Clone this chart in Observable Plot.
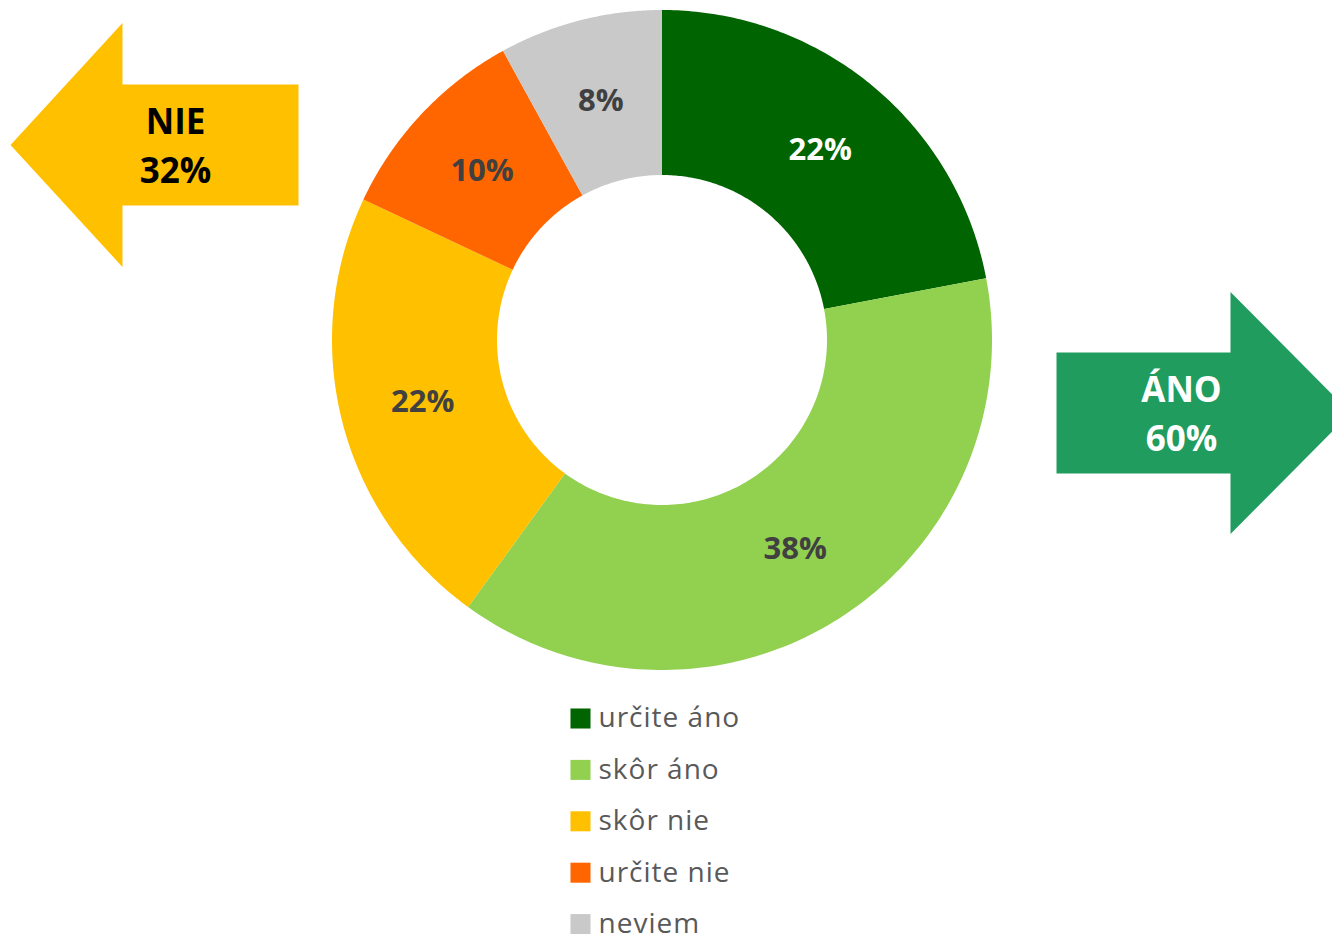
<!DOCTYPE html>
<html>
<head>
<meta charset="utf-8">
<script src="https://cdn.jsdelivr.net/npm/d3@7"></script>
<script src="https://cdn.jsdelivr.net/npm/@observablehq/plot@0.6"></script>
<style>
  html, body { margin: 0; padding: 0; background: #fff; overflow: hidden; }
  #chart svg { display: block; }
  .legend-text text { letter-spacing: 1px; }
</style>
</head>
<body>
<div id="chart"></div>
<script>
// ---------- data ----------
const categories = ["určite áno", "skôr áno", "skôr nie", "určite nie", "neviem"];
const values = [22, 38, 22, 10, 8];
const colors = ["#006400", "#92D050", "#FFC000", "#FF6600", "#C9C9C9"];
const labelColors = ["#FFFFFF", "#404040", "#404040", "#404040", "#404040"];
const groupNames = ["NIE", "ÁNO"];
const groupMembers = [["skôr nie", "určite nie"], ["určite áno", "skôr áno"]];
const groupColors = ["#FFC000", "#1F9C5E"];
const groupTextColors = ["#000000", "#FFFFFF"];

// ---------- layout (pixels -> unit radius coordinates) ----------
const W = 1332, H = 934, CX = 662, CY = 340, R = 330, INNER = 0.5;
const ux = px => (px - CX) / R;
const uy = py => (CY - py) / R;

// ---------- donut slices ----------
const total = d3.sum(values);
let acc = 0;
const slices = categories.map((c, i) => {
  const a0 = acc / total * 2 * Math.PI;
  acc += values[i];
  const a1 = acc / total * 2 * Math.PI;
  return {key: c, value: values[i], a0, a1, color: labelColors[i]};
});
const arcPts = [];
for (const s of slices) {
  const n = 120;
  for (let k = 0; k <= n; k++) {
    const a = s.a0 + (s.a1 - s.a0) * k / n;
    arcPts.push({key: s.key, x1: INNER * Math.sin(a), y1: INNER * Math.cos(a), x2: Math.sin(a), y2: Math.cos(a)});
  }
}
const labels = slices.map(s => {
  const a = (s.a0 + s.a1) / 2, r = (1 + INNER) / 2;
  return {key: s.key, x: r * Math.sin(a), y: r * Math.cos(a), text: `${s.value}%`, color: s.color};
});

// ---------- group arrows ----------
const groupSums = groupMembers.map(m => d3.sum(m, k => values[categories.indexOf(k)]));
// arrow shapes in pixels: tip x, head base x, tail x, centre y, head half-height, body half-height, text x
const arrowShapes = [
  {tip: 10, head: 122, tail: 298, cy: 144.5, hh: 122, bh: 60.5, tx: 175},
  {tip: 1350, head: 1230, tail: 1056, cy: 412.5, hh: 121, bh: 60.5, tx: 1181}
];
const arrowPts = [];
arrowShapes.forEach((a, i) => {
  const poly = [
    [a.tip, a.cy], [a.head, a.cy - a.hh], [a.head, a.cy - a.bh], [a.tail, a.cy - a.bh],
    [a.tail, a.cy + a.bh], [a.head, a.cy + a.bh], [a.head, a.cy + a.hh], [a.tip, a.cy]
  ];
  poly.forEach(([px, py]) => arrowPts.push({g: groupNames[i], x: ux(px), y: uy(py)}));
});
const arrowText = arrowShapes.map((a, i) => ({
  x: ux(a.tx), y: uy(a.cy), text: `${groupNames[i]}\n${groupSums[i]}%`, fill: groupTextColors[i]
}));

// ---------- legend ----------
const legend = categories.map((c, i) => ({key: c, x: ux(580), y: uy(718 + i * 51.4)}));

const chart = Plot.plot({
  width: W, height: H,
  margin: 0,
  x: {domain: [ux(0), ux(W)], axis: null},
  y: {domain: [uy(H), uy(0)], axis: null},
  color: {domain: categories, range: colors},
  style: {background: "white", overflow: "visible"},
  marks: [
    Plot.area(arcPts, {x1: "x1", y1: "y1", x2: "x2", y2: "y2", z: "key", fill: "key"}),
    Plot.text(labels, {x: "x", y: "y", text: "text", fill: d => d.color, fontSize: 31, fontWeight: "bold", fontFamily: "Open Sans"}),
    ...groupNames.map((g, i) => Plot.line(arrowPts.filter(d => d.g === g), {x: "x", y: "y", fill: groupColors[i], stroke: "none"})),
    ...arrowText.map(t => Plot.text([t], {x: "x", y: "y", text: "text", fill: t.fill, fontSize: 35, fontWeight: "bold", fontFamily: "Open Sans", lineHeight: 1.38, dy: -2})),
    Plot.dot(legend, {x: "x", y: "y", fill: "key", symbol: "square", r: 11.3}),
    Plot.text(legend, {x: "x", y: "y", text: "key", dx: 18, textAnchor: "start", fill: "#595959", fontSize: 28, fontFamily: "Open Sans", className: "legend-text"})
  ]
});
document.getElementById("chart").appendChild(chart);
</script>
</body>
</html>
